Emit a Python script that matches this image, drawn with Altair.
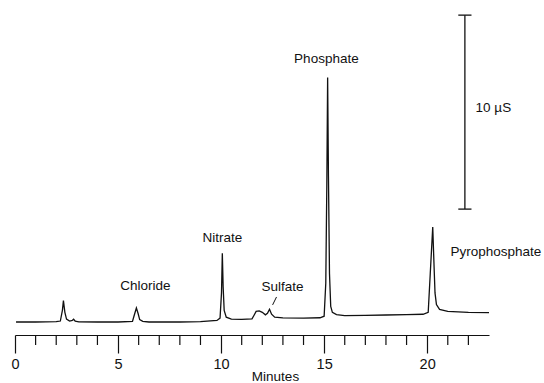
import altair as alt
import pandas as pd

# Chromatogram trace (minutes, conductance in µS above starting baseline)
times = [0.05, 1.0, 2.0, 2.2, 2.3, 2.35, 2.42, 2.5, 2.65, 2.78, 2.84, 2.92, 3.1, 4.0, 5.0,
         5.7, 5.8, 5.89, 5.97, 6.05, 6.2, 6.5, 8.0, 9.0, 9.8, 9.95, 10.02, 10.06, 10.1, 10.15,
         10.25, 10.5, 11.0, 11.5, 11.6, 11.7, 11.85, 12.0, 12.15, 12.25, 12.35, 12.45, 12.6,
         13.0, 14.0, 14.8, 15.0, 15.08, 15.13, 15.17, 15.21, 15.26, 15.32, 15.4, 15.6, 16.0,
         17.0, 18.0, 19.0, 19.8, 20.05, 20.15, 20.27, 20.33, 20.38, 20.45, 20.6, 21.0, 22.0, 23.0]
signal = [0.0, 0.0, 0.02, 0.05, 0.6, 1.1, 0.5, 0.15, 0.05, 0.08, 0.14, 0.05, 0.01, 0.0, 0.0,
          0.03, 0.4, 0.72, 0.45, 0.12, 0.03, 0.0, 0.0, 0.02, 0.08, 0.2, 1.5, 3.55, 1.8, 0.6,
          0.25, 0.15, 0.14, 0.16, 0.35, 0.55, 0.57, 0.5, 0.37, 0.45, 0.66, 0.4, 0.25,
          0.21, 0.2, 0.22, 0.3, 2.0, 7.0, 12.6, 7.5, 2.5, 0.8, 0.5, 0.38, 0.33,
          0.34, 0.36, 0.38, 0.40, 0.5, 2.5, 4.9, 3.0, 1.5, 0.9, 0.65, 0.55, 0.5, 0.48]

# Peak labels
label_names = ["Chloride", "Nitrate", "Sulfate", "Phosphate"]
label_t = [6.33, 10.06, 12.98, 15.11]
label_s = [1.86, 4.33, 1.80, 13.56]

left_names = ["Pyrophosphate", "10 µS"]
left_t = [21.13, 22.35]
left_s = [3.61, 11.03]

# Sulfate leader line
leader_t = [12.69]
leader_t2 = [12.50]
leader_s = [1.29]
leader_s2 = [0.88]

# Scale bar: 10 µS
bar_t = 21.83
bar_low = 5.82
bar_high = 15.82
cap_half = 0.32

major_ticks = [0, 5, 10, 15, 20]
minor_ticks = [1, 2, 3, 4, 6, 7, 8, 9, 11, 12, 13, 14, 16, 17, 18, 19, 21, 22]

FONT = "Liberation Sans"
INK = "#111"
PLOT_H = 335

x_scale = alt.Scale(domain=[0, 23.0], nice=False, zero=False)
y_scale = alt.Scale(domain=[-0.67, 16.6], nice=False, zero=False)

trace_df = pd.DataFrame({"t": times, "s": signal})

trace = alt.Chart(trace_df).mark_line(color=INK, strokeWidth=1.3).encode(
    x=alt.X("t:Q", scale=x_scale,
            axis=alt.Axis(values=major_ticks, title="Minutes", format="d",
                          labelOverlap=False, tickSize=18,
                          tickColor=INK, tickWidth=1.2, domainColor=INK, domainWidth=1.2,
                          labelFont=FONT, labelFontSize=14.5, labelColor=INK, labelPadding=4,
                          labelFlush=False, grid=False,
                          titleFont=FONT, titleFontSize=13.5, titleFontWeight="normal",
                          titleColor=INK, titleX=260, titleY=41, titleBaseline="middle",
                          titleAlign="center")),
    y=alt.Y("s:Q", scale=y_scale, axis=None),
)

minor_df = pd.DataFrame({"t": minor_ticks})
minor = alt.Chart(minor_df).mark_rule(color=INK, strokeWidth=1.2).encode(
    x=alt.X("t:Q", scale=x_scale),
    y=alt.value(PLOT_H), y2=alt.value(PLOT_H + 10))

labels_df = pd.DataFrame({"name": label_names, "t": label_t, "s": label_s})
labels = alt.Chart(labels_df).mark_text(font=FONT, fontSize=13.5, color=INK,
                                        align="center", baseline="middle").encode(
    x=alt.X("t:Q", scale=x_scale), y=alt.Y("s:Q", scale=y_scale), text="name:N")

left_df = pd.DataFrame({"name": left_names, "t": left_t, "s": left_s})
left_labels = alt.Chart(left_df).mark_text(font=FONT, fontSize=13.5, color=INK,
                                           align="left", baseline="middle").encode(
    x=alt.X("t:Q", scale=x_scale), y=alt.Y("s:Q", scale=y_scale), text="name:N")

leader_df = pd.DataFrame({"t": leader_t, "t2": leader_t2, "s": leader_s, "s2": leader_s2})
leader = alt.Chart(leader_df).mark_rule(color=INK, strokeWidth=1).encode(
    x=alt.X("t:Q", scale=x_scale), x2="t2:Q",
    y=alt.Y("s:Q", scale=y_scale), y2="s2:Q")

bar_df = pd.DataFrame({
    "t": [bar_t, bar_t - cap_half, bar_t - cap_half],
    "t2": [bar_t, bar_t + cap_half, bar_t + cap_half],
    "s": [bar_low, bar_low, bar_high],
    "s2": [bar_high, bar_low, bar_high],
})
bar = alt.Chart(bar_df).mark_rule(color=INK, strokeWidth=1.3).encode(
    x=alt.X("t:Q", scale=x_scale), x2="t2:Q",
    y=alt.Y("s:Q", scale=y_scale), y2="s2:Q")

chart = alt.layer(trace, minor, leader, bar, labels, left_labels).properties(
    width=474, height=PLOT_H,
    autosize=alt.AutoSizeParams(type="none"),
    padding={"left": 15, "top": 0, "right": 55, "bottom": 48},
    background="white",
).configure_view(stroke=None)

chart.save("out.html", embed_options={"renderer": "svg", "actions": False})
